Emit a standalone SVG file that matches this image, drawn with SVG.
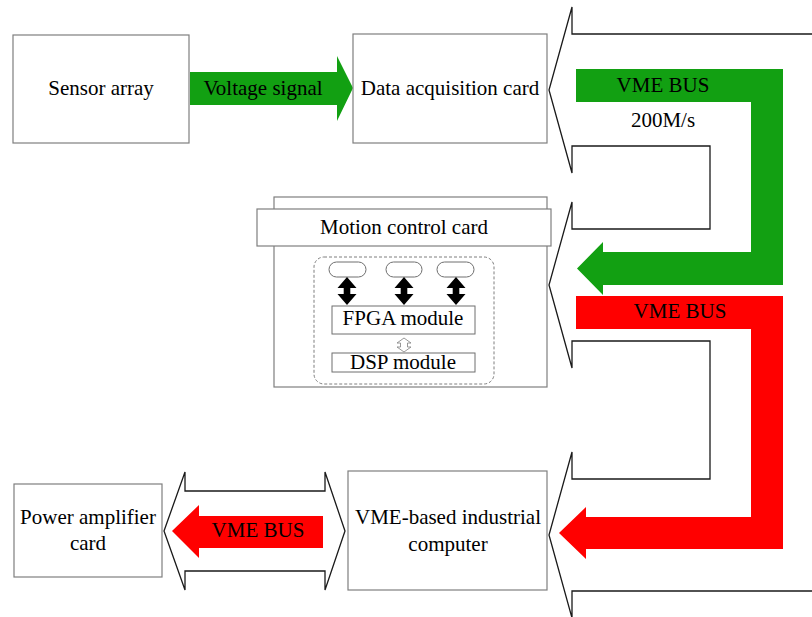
<svg xmlns="http://www.w3.org/2000/svg" width="812" height="617" viewBox="0 0 812 617">
  <style>
    .box { fill: #ffffff; stroke: #7f7f7f; stroke-width: 1.2; }
    .thin { fill: #ffffff; stroke: #6f6f6f; stroke-width: 1; }
    .bus { fill: #ffffff; stroke: #1a1a1a; stroke-width: 1.3; stroke-linejoin: miter; }
    .green { fill: #12a012; }
    .red { fill: #ff0000; }
    .lbl { font-family: "Liberation Serif", "Times New Roman", serif; font-size: 21px; fill: #000000; text-anchor: middle; }
    .dash { fill: none; stroke: #7f7f7f; stroke-width: 1; stroke-dasharray: 3 2; }
    .link { fill: #000000; }
  </style>

  <defs>
    <!-- Solid double-headed link, centred on x=0, from y=0 to y=28 -->
    <path id="dbl" d="M 0,0 L 9.5,11 L 3.3,11 L 3.3,17 L 9.5,17 L 0,28 L -9.5,17 L -3.3,17 L -3.3,11 L -9.5,11 Z"/>
  </defs>

  <!-- Backplane bus outline with three branch arrows -->
  <g id="connectors">
    <path class="bus" d="M 813,34 L 572,34 L 572,7 L 549,90 L 572,173 L 572,146 L 710,146 L 710,229 L 572,229 L 572,202 L 549,285 L 572,368 L 572,341 L 710,341 L 710,479 L 572,479 L 572,452 L 549,535 L 572,618 L 572,591 L 813,591"/>

    <!-- Green bus arrow (200M/s) -->
    <path class="green" d="M 576,69 L 783,69 L 783,285 L 603,285 L 603,295 L 577,268.5 L 603,242 L 603,252 L 751,252 L 751,102 L 576,102 Z"/>
    <text class="lbl" x="663" y="92">VME BUS</text>
    <text class="lbl" x="663" y="127">200M/s</text>

    <!-- Red bus arrow -->
    <path class="red" d="M 576,296 L 783,296 L 783,549 L 586,549 L 586,559 L 559,533 L 586,507 L 586,517 L 751,517 L 751,329 L 576,329 Z"/>
    <text class="lbl" x="680" y="318">VME BUS</text>

    <!-- Voltage signal arrow -->
    <path class="green" d="M 190,72 L 337,72 L 337,56 L 353,88 L 337,121 L 337,105 L 190,105 Z"/>
    <text class="lbl" x="263" y="95">Voltage signal</text>

    <!-- Power amplifier link -->
    <path class="bus" d="M 164,531 L 185,472 L 185,491 L 325,491 L 325,472 L 345,531 L 325,590 L 325,571 L 185,571 L 185,590 Z"/>
    <path class="red" d="M 172,531 L 199,505 L 199,516 L 323,516 L 323,548 L 199,548 L 199,558 Z"/>
    <text class="lbl" x="258" y="537">VME BUS</text>
  </g>

  <g id="sensor-array">
    <rect class="box" x="13" y="35" width="176" height="108"/>
    <text class="lbl" x="101" y="95">Sensor array</text>
  </g>

  <g id="data-acquisition-card">
    <rect class="box" x="353" y="34" width="194" height="109"/>
    <text class="lbl" x="450" y="95">Data acquisition card</text>
  </g>

  <g id="motion-control-card">
    <rect class="box" x="274" y="197" width="273" height="190"/>
    <rect class="box" x="257" y="209" width="294" height="37"/>
    <text class="lbl" x="404" y="234">Motion control card</text>
    <rect class="dash" x="314" y="257" width="180" height="127" rx="10"/>
    <!-- I/O ports -->
    <rect class="thin" x="329" y="262" width="37" height="15" rx="7.5"/>
    <rect class="thin" x="386" y="262" width="36" height="15" rx="7.5"/>
    <rect class="thin" x="437" y="262" width="37" height="15" rx="7.5"/>
    <!-- Port links -->
    <use href="#dbl" class="link" x="347" y="277"/>
    <use href="#dbl" class="link" x="404" y="277"/>
    <use href="#dbl" class="link" x="456" y="277"/>
    <rect class="thin" x="332" y="306" width="143" height="28"/>
    <text class="lbl" x="403" y="325">FPGA module</text>
    <!-- FPGA/DSP link -->
    <path fill="#fff" stroke="#7f7f7f" stroke-width="0.8" d="M 404,338 L 411,343 L 407.5,343 L 407.5,347 L 411,347 L 404,352 L 397,347 L 400.5,347 L 400.5,343 L 397,343 Z"/>
    <rect class="thin" x="332" y="353" width="143" height="19"/>
    <text class="lbl" x="403" y="369">DSP module</text>
  </g>

  <g id="power-amplifier-card">
    <rect class="box" x="14" y="484" width="148" height="93"/>
    <text class="lbl" x="88" y="524">Power amplifier</text>
    <text class="lbl" x="88" y="550">card</text>
  </g>

  <g id="industrial-computer">
    <rect class="box" x="348" y="471" width="199" height="119"/>
    <text class="lbl" x="448" y="524">VME-based industrial</text>
    <text class="lbl" x="448" y="551">computer</text>
  </g>
</svg>
